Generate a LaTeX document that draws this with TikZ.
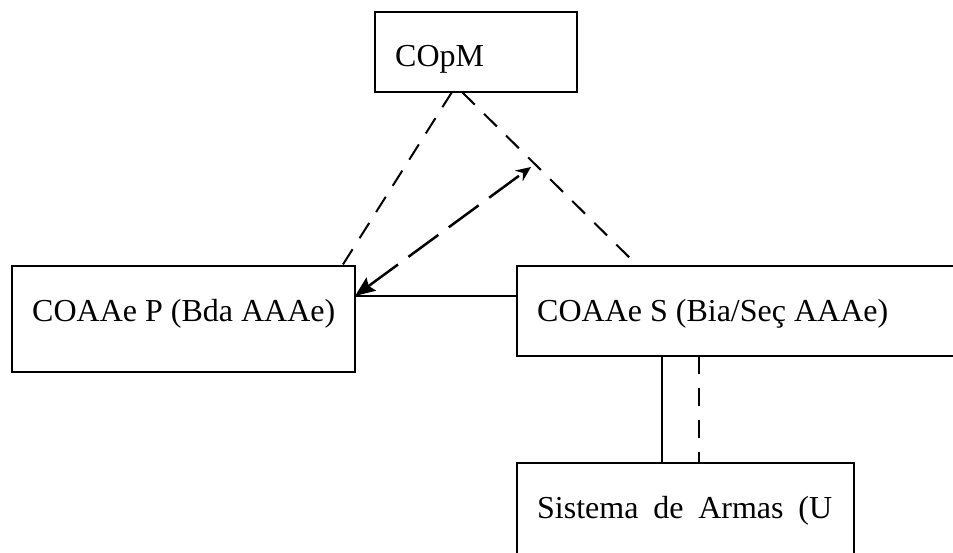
\documentclass[tikz,border=0pt]{standalone}
\usepackage{fontspec}
\setmainfont{Liberation Serif}
\usetikzlibrary{arrows.meta}
\begin{document}
\begin{tikzpicture}[x=1pt,y=-1pt,
  boxnode/.style={draw, line width=2pt, inner sep=0pt, outer sep=0pt, anchor=north west},
  lbl/.style={inner sep=0pt, anchor=base west, font=\fontsize{32}{38}\selectfont},
  dashln/.style={line width=2pt, dash pattern=on 18pt off 13pt},
  vdashln/.style={line width=2.2pt, dash pattern=on 18pt off 14pt},
  solidln/.style={line width=2pt},
  arrowln/.style={line width=2.5pt, dash pattern=on 37pt off 13pt,
     {Stealth[length=20pt,width=16pt,inset=3pt]}-{Stealth[length=15pt,width=13pt,inset=5pt]}}]
\clip (0,0) rectangle (953,553);
\fill[white] (0,0) rectangle (953,553);
% boxes
\node[boxnode, minimum width=202pt, minimum height=80pt] (copm) at (375,12) {};
\node[boxnode, minimum width=343pt, minimum height=106pt] (p) at (12,266) {};
\node[boxnode, minimum width=483pt, minimum height=90pt] (s) at (517,266) {};
\node[boxnode, minimum width=337pt, minimum height=137pt] (sa) at (517,463) {};
% labels
\node[lbl] (tcopm) at (395,67) {COpM};
\node[lbl] (tp) at (32,321) {COAAe P (Bda AAAe)};
\node[lbl] (ts) at (537,321) {COAAe S (Bia/Seç AAAe)};
\node[lbl] (tsa) at (537,518) {\makebox[295pt][s]{Sistema de Armas (U}};
% connectors
\draw[dashln] ([xshift=-24pt]copm.south) -- ([xshift=-13pt]p.north east);
\draw[dashln] ([xshift=-14pt]copm.south) -- ([xshift=121pt]s.north west);
\coordinate (hl) at ([yshift=15pt]s.west);
\draw[solidln] (hl) -- (hl -| p.east);
\coordinate (atop) at (531,167);
\draw[arrowln] (hl -| p.east) -- (atop);
\coordinate (v1) at ([xshift=145pt]s.south west);
\coordinate (v2) at ([xshift=182pt]s.south west);
\draw[solidln] (v1) -- (v1 |- sa.north);
\draw[vdashln] (v2) -- (v2 |- sa.north);
\end{tikzpicture}
\end{document}
